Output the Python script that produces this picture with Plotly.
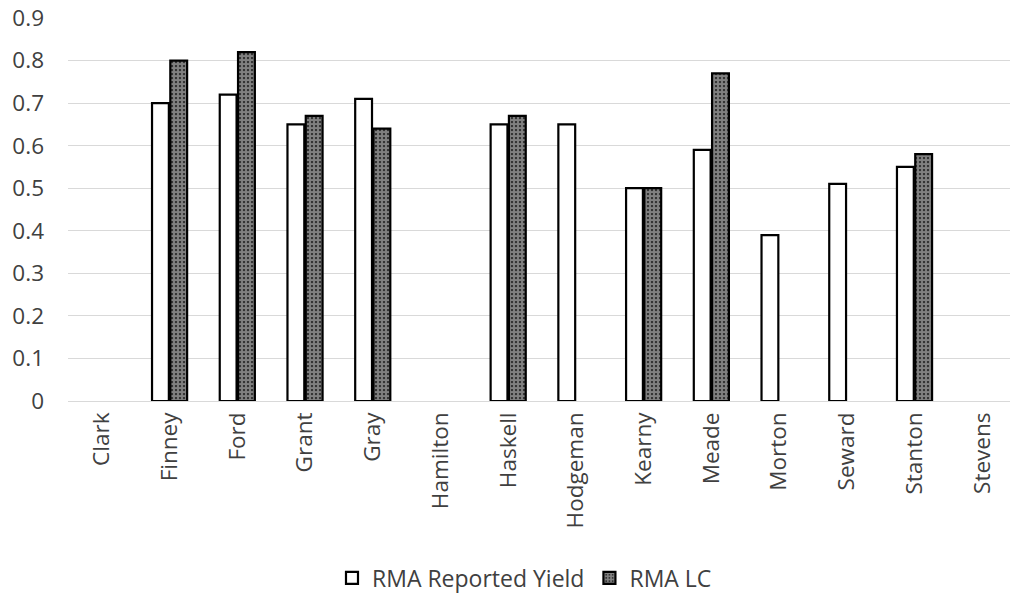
import plotly.graph_objects as go

counties = ["Clark", "Finney", "Ford", "Grant", "Gray", "Hamilton", "Haskell",
            "Hodgeman", "Kearny", "Meade", "Morton", "Seward", "Stanton", "Stevens"]
rma_reported_yield = [None, 0.70, 0.72, 0.65, 0.71, None, 0.65,
                      0.65, 0.50, 0.59, 0.39, 0.51, 0.55, None]
rma_lc = [None, 0.80, 0.82, 0.67, 0.64, None, 0.67,
          None, 0.50, 0.77, None, None, 0.58, None]
y_ticks = [0, 0.1, 0.2, 0.3, 0.4, 0.5, 0.6, 0.7, 0.8, 0.9]
y_tick_text = ["0", "0.1", "0.2", "0.3", "0.4", "0.5", "0.6", "0.7", "0.8", "0.9"]

FONT = "Open Sans"
TXT = "#404040"

fig = go.Figure()
fig.add_trace(go.Bar(
    x=counties, y=rma_reported_yield, name="RMA Reported Yield",
    marker=dict(color="white", line=dict(color="black", width=2.2)),
))
fig.add_trace(go.Bar(
    x=counties, y=rma_lc, name="RMA LC",
    marker=dict(color="white", line=dict(color="black", width=2.2),
                pattern=dict(shape=".", bgcolor="black", fgcolor="white",
                             size=4, solidity=0.8)),
))

fig.update_layout(
    width=1010, height=593,
    margin=dict(l=68, r=0, t=18, b=192, autoexpand=False),
    paper_bgcolor="white", plot_bgcolor="white",
    barmode="group", bargap=0.46, bargroupgap=0.08,
    font=dict(family=FONT, size=22, color=TXT),
    showlegend=True,
    legend=dict(orientation="h", x=0.4846, xanchor="center", y=-0.462, yanchor="middle",
                font=dict(family=FONT, size=23, color=TXT),
                itemwidth=30, traceorder="normal"),
    xaxis=dict(range=[-0.5, 13.41], tickangle=-90, showgrid=False, automargin=False,
               showline=False, ticks="", ticklabelstandoff=6, ticklabeloverflow="allow",
               tickfont=dict(family=FONT, size=22.5, color=TXT)),
    yaxis=dict(range=[0, 0.9], tickvals=y_ticks, ticktext=y_tick_text, automargin=False,
               showgrid=True, gridcolor="#d9d9d9", gridwidth=1,
               zeroline=True, zerolinecolor="#d9d9d9", zerolinewidth=1,
               showline=False, ticks="", ticklabelstandoff=23, ticklabeloverflow="allow",
               tickfont=dict(family=FONT, size=22.5, color=TXT)),
)

fig.write_html("out.html", config={"displayModeBar": False},
               post_script="document.body.style.margin='0px';")
